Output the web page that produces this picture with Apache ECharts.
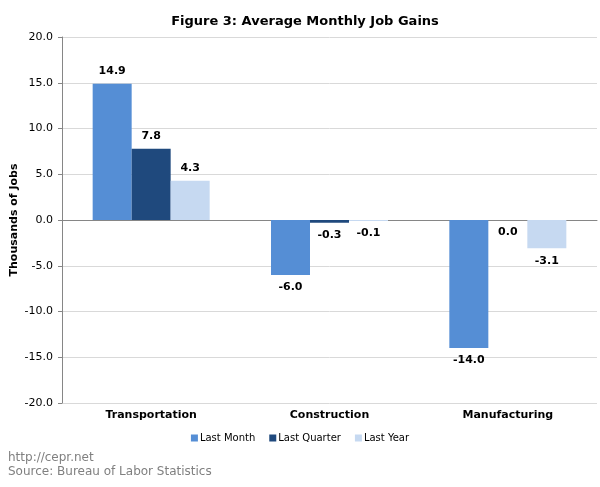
<!DOCTYPE html>
<html><head><meta charset="utf-8">
<script src="https://cdn.jsdelivr.net/npm/echarts@6/dist/echarts.min.js"></script>
<style>html,body{margin:0;padding:0;background:#fff}#c{width:600px;height:487px}</style>
</head><body><div id="c"></div>
<script>
const categories = ["Transportation", "Construction", "Manufacturing"];
const lastMonth = [14.9, -6.0, -14.0];
const lastQuarter = [7.8, -0.3, 0.0];
const lastYear = [4.3, -0.1, -3.1];
const seriesNames = ["Last Month", "Last Quarter", "Last Year"];
const colors = ["#558ED5", "#1F497D", "#C6D9F1"];
const yAxisTitle = 'Thousands of Jobs';
const F = "Verdana, 'DejaVu Sans', sans-serif";

const chart = echarts.init(document.getElementById('c'));
const mk = (name, data, color) => ({
  name, type: 'bar', data, barWidth: 39, barGap: '0%',
  itemStyle: { color },
  label: { show: true, position: 'outside', distance: 7, formatter: p => p.value.toFixed(1),
    fontFamily: F, fontSize: 11, fontWeight: 'bold', color: '#000' }
});
chart.setOption({
  animation: false,
  textStyle: { fontFamily: F },
  title: { text: 'Figure 3: Average Monthly Job Gains', left: 300, textAlign: 'center', top: 10,
    textStyle: { fontFamily: F, fontSize: 13, fontWeight: 'bold', color: '#000' } },
  grid: { left: 62, right: 3, top: 37, bottom: 84, outerBoundsMode: 'none', containLabel: false },
  legend: { data: seriesNames, top: 428, left: 'center', itemWidth: 7, itemHeight: 7, itemGap: 14,
    icon: 'rect', textStyle: { fontFamily: F, fontSize: 10, color: '#000', padding: [0,0,0,-3] } },
  xAxis: { type: 'category', data: categories,
    axisLine: { onZero: true, lineStyle: { color: '#868686' } }, axisTick: { show: false },
    axisLabel: { interval: 0, fontFamily: F, fontSize: 11, fontWeight: 'bold', color: '#000', margin: 7 },
    position: 'bottom' },
  yAxis: { type: 'value', min: -20, max: 20, interval: 5,
    axisLine: { show: true, lineStyle: { color: '#868686' } },
    axisTick: { show: true, length: 4, lineStyle: { color: '#868686' } },
    axisLabel: { formatter: v => v.toFixed(1), fontFamily: F, fontSize: 11, color: '#000', margin: 9 },
    splitLine: { lineStyle: { color: '#d9d9d9' } } },
  graphic: [
    { type: 'text', x: 14, y: 220, rotation: Math.PI / 2,
      style: { text: yAxisTitle, fontFamily: F, fontSize: 11, fontWeight: 'bold', fill: '#000', align: 'center', verticalAlign: 'middle' } },
    { type: 'text', left: 8, top: 452, style: { text: 'http://cepr.net', fontFamily: F, fontSize: 12, fill: '#808080' } },
    { type: 'text', left: 8, top: 466, style: { text: 'Source: Bureau of Labor Statistics', fontFamily: F, fontSize: 12, fill: '#808080' } }
  ],
  series: [ mk(seriesNames[0], lastMonth, colors[0]), mk(seriesNames[1], lastQuarter, colors[1]), mk(seriesNames[2], lastYear, colors[2]) ]
});
</script></body></html>
